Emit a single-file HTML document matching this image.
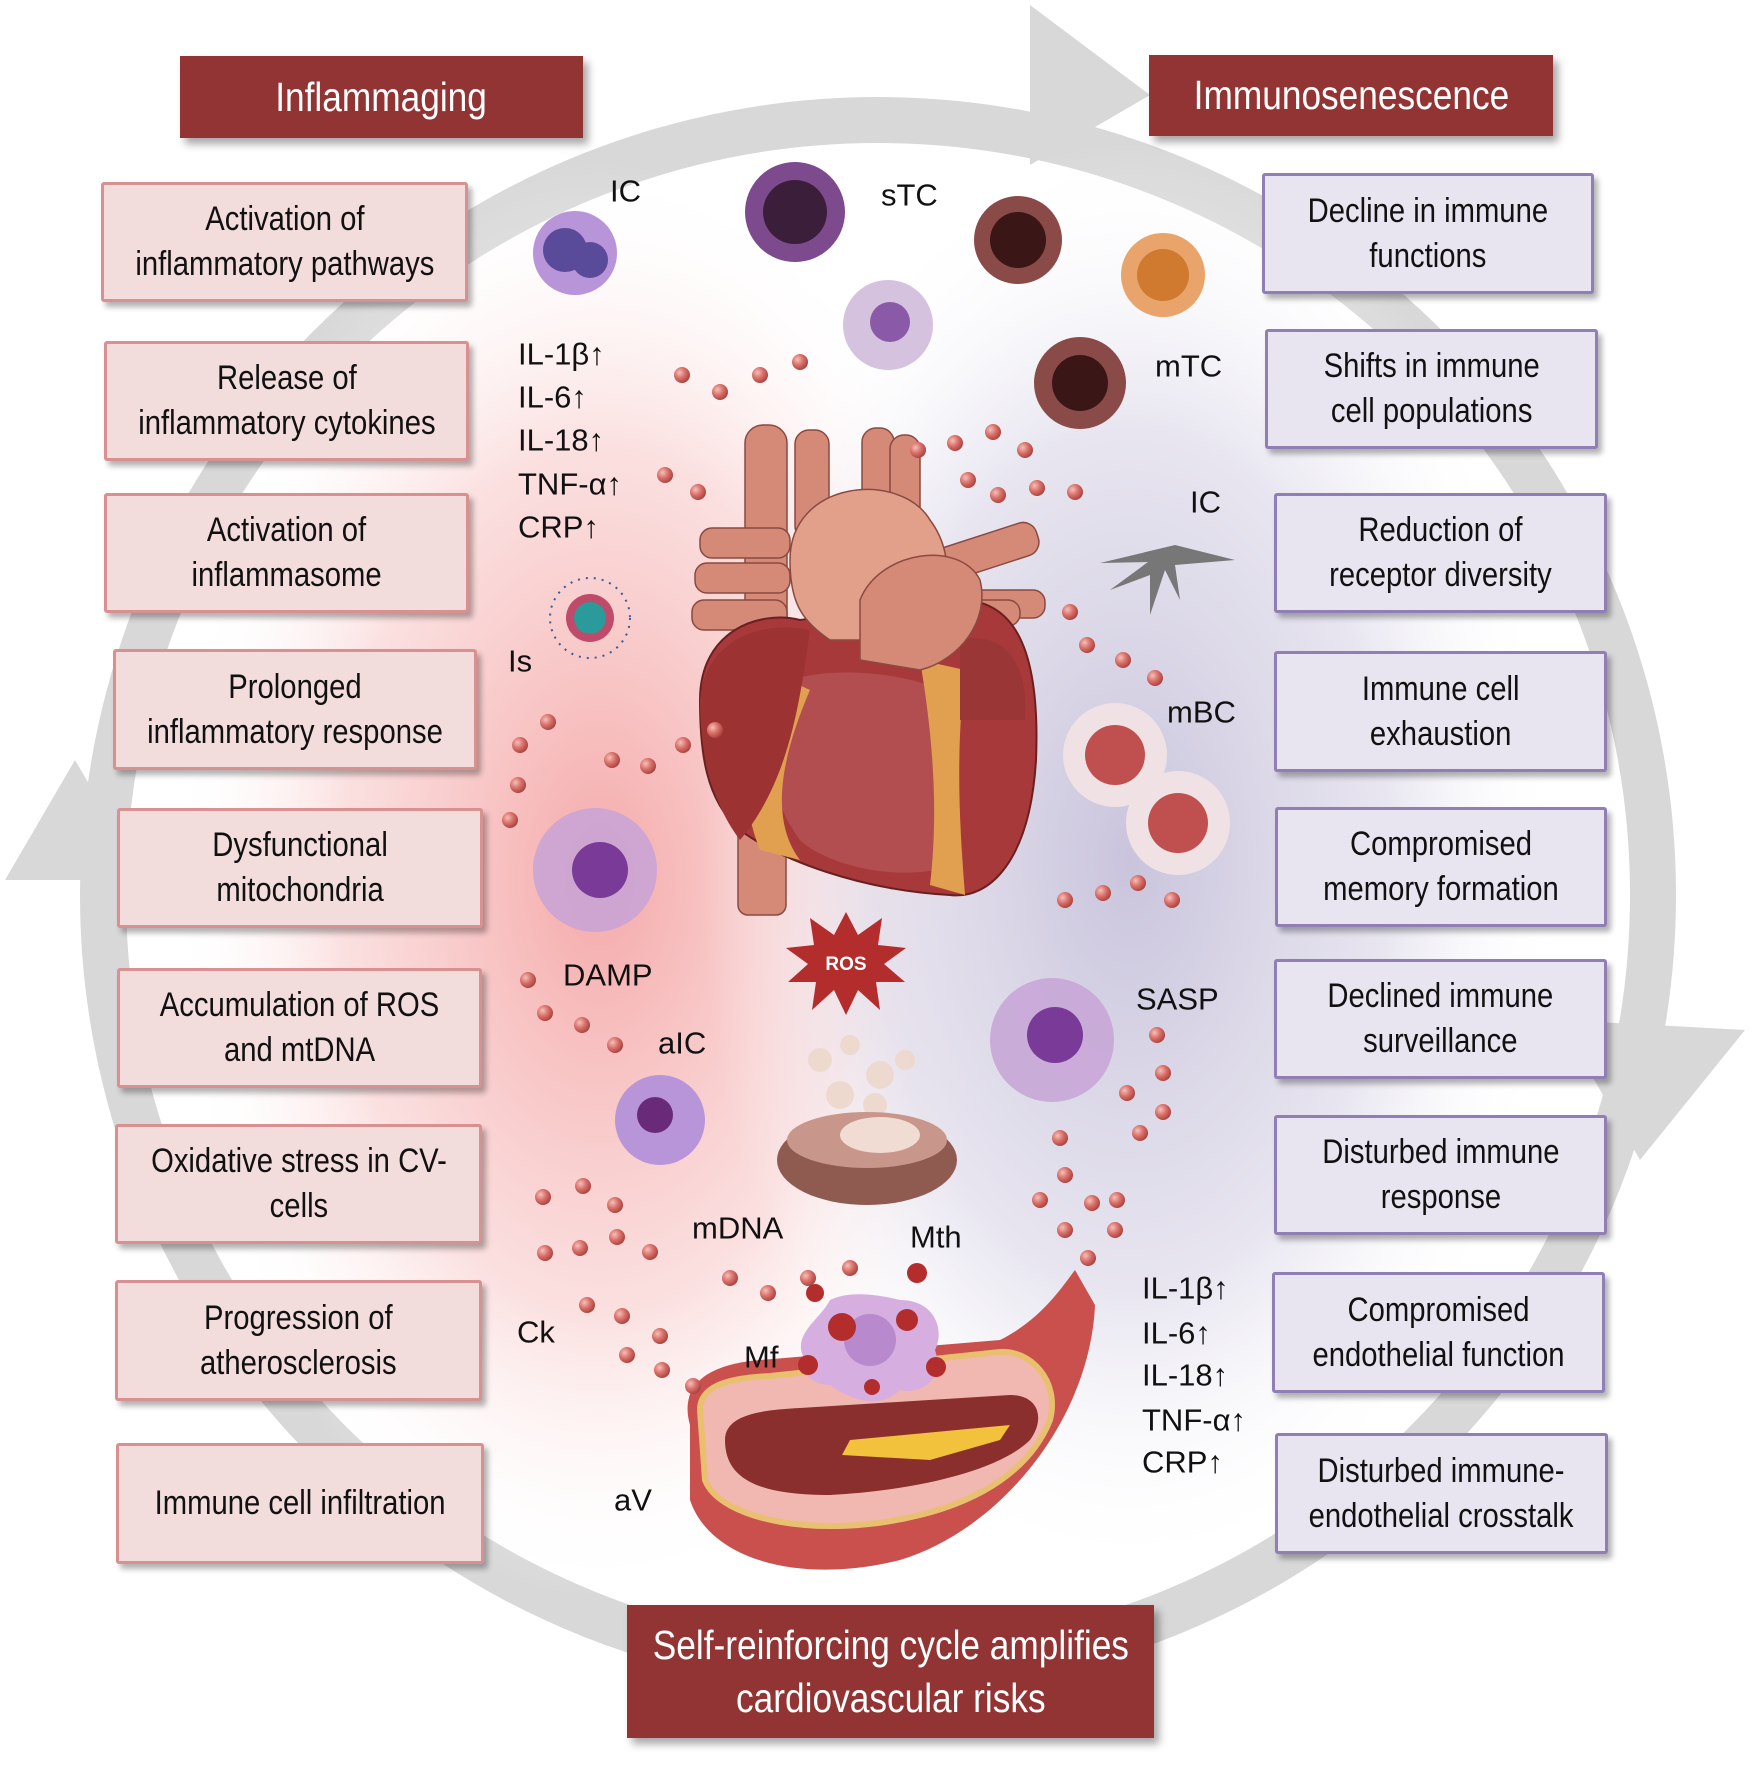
<!DOCTYPE html>
<html><head><meta charset="utf-8"><style>
html,body{margin:0;padding:0;background:#fff}
#c{position:relative;width:1755px;height:1767px;overflow:hidden;font-family:"Liberation Sans Narrow","Liberation Sans",sans-serif}
.b{position:absolute;display:flex;align-items:center;justify-content:center;text-align:center;font-size:34px;line-height:45px;color:#111;box-sizing:border-box;border-radius:3px}
.b span{display:inline-block;transform:scaleX(.86);white-space:nowrap}
.l{background:#f2dcdc;border:3px solid #d99090;box-shadow:4px 5px 6px rgba(0,0,0,.3)}
.r{background:#e8e5f0;border:3px solid #8f7fb5;box-shadow:4px 5px 6px rgba(0,0,0,.3)}
.h{background:#933434;color:#fff;font-size:41px;line-height:53px;box-shadow:5px 6px 8px rgba(0,0,0,.35);border-radius:0}
svg{position:absolute;left:0;top:0}
</style></head><body><div id="c">
<svg width="1755" height="1767" viewBox="0 0 1755 1767">
<defs>
<radialGradient id="pk" cx="0.5" cy="0.5" r="0.5"><stop offset="0" stop-color="#f5a9a9"/><stop offset="0.6" stop-color="#fad8d8" stop-opacity="0.8"/><stop offset="1" stop-color="#fff" stop-opacity="0"/></radialGradient>
<radialGradient id="lv" cx="0.5" cy="0.5" r="0.5"><stop offset="0" stop-color="#c9c4dc"/><stop offset="0.6" stop-color="#e2dfec" stop-opacity="0.8"/><stop offset="1" stop-color="#fff" stop-opacity="0"/></radialGradient>
<radialGradient id="dot" cx="0.35" cy="0.35" r="0.7"><stop offset="0" stop-color="#f6c0b8"/><stop offset="0.5" stop-color="#d9706a"/><stop offset="1" stop-color="#a8403c"/></radialGradient>
</defs>
<circle cx="878" cy="895" r="775" fill="none" stroke="#d8d8d8" stroke-width="46"/>
<polygon points="1030,5 1150,95 1030,165" fill="#d8d8d8"/>
<polygon points="5,880 75,760 145,880" fill="#d8d8d8"/>
<polygon points="1560,1020 1745,1030 1640,1160" fill="#d8d8d8"/>
<ellipse cx="600" cy="880" rx="430" ry="720" fill="url(#pk)"/>
<ellipse cx="1130" cy="860" rx="430" ry="720" fill="url(#lv)"/>
<g fill="#d58a78" stroke="#8a4a40" stroke-width="1.5">
<rect x="745" y="425" width="42" height="260" rx="18"/>
<rect x="795" y="430" width="34" height="110" rx="14"/>
<rect x="862" y="428" width="32" height="120" rx="14"/>
<rect x="890" y="435" width="30" height="110" rx="14"/>
<rect x="700" y="528" width="90" height="30" rx="12"/>
<rect x="695" y="563" width="95" height="30" rx="12"/>
<rect x="692" y="600" width="95" height="30" rx="12"/>
<rect x="955" y="590" width="90" height="28" rx="12"/>
<rect x="940" y="600" width="80" height="26" rx="12"/>
<rect x="930" y="535" width="110" height="34" rx="14" transform="rotate(-18 985 552)"/>
<rect x="738" y="820" width="48" height="95" rx="10"/>
</g>
<path d="M700,700 C700,630 760,610 800,620 L960,600 C1020,600 1040,660 1036,760 C1030,860 990,900 950,895 C860,890 780,860 740,830 C705,800 700,750 700,700Z" fill="#a8393a" stroke="#6a2020" stroke-width="2"/>
<path d="M760,700 C790,660 900,670 940,690 C960,760 950,830 935,870 C880,880 820,860 800,840 C770,800 760,740 760,700Z" fill="#b24e50"/>
<path d="M745,660 L810,690 C780,760 770,820 800,860 L760,850 C740,800 738,730 745,660Z" fill="#e0a050"/>
<path d="M920,660 L965,670 C955,760 960,830 965,895 L930,885 C940,800 930,720 920,660Z" fill="#e0a050"/>
<path d="M700,700 C705,640 760,620 810,630 C800,700 790,780 740,840 C710,800 700,750 700,700Z" fill="#9c3232"/>
<path d="M960,640 C1000,630 1030,660 1025,720 L960,720 Z" fill="#9a3636"/>
<path d="M790,560 C790,480 900,470 930,520 C960,560 950,620 900,640 L830,640 C800,620 790,600 790,560Z" fill="#e2a08a" stroke="#8a4a40" stroke-width="1.5"/>
<path d="M860,600 C880,550 960,540 980,580 C990,620 960,660 920,670 L860,660Z" fill="#d58a78" stroke="#8a4a40" stroke-width="1.5"/>
<polygon points="846,912 858,935 882,918 878,945 906,948 884,964 905,982 876,982 880,1010 858,990 846,1015 834,990 812,1010 816,982 788,982 808,964 786,948 814,945 810,918 834,935" fill="#b32d2d"/>
<text x="846" y="970" font-family="Liberation Sans" font-weight="bold" font-size="19" fill="#fff" text-anchor="middle">ROS</text>
<g fill="#eed8cc" opacity="0.9"><circle cx="820" cy="1060" r="12"/><circle cx="850" cy="1045" r="10"/><circle cx="880" cy="1075" r="14"/><circle cx="905" cy="1060" r="10"/><circle cx="840" cy="1095" r="14"/><circle cx="875" cy="1105" r="12"/></g>
<ellipse cx="867" cy="1160" rx="90" ry="45" fill="#8f5a50"/>
<ellipse cx="867" cy="1140" rx="80" ry="28" fill="#c8968a"/>
<ellipse cx="880" cy="1135" rx="40" ry="18" fill="#f0dcd2"/>
<path d="M690,1425 C680,1390 700,1365 760,1360 L1000,1340 C1040,1320 1060,1290 1075,1270 L1095,1305 C1090,1420 1000,1530 900,1560 C800,1585 710,1560 690,1500Z" fill="#c9504d"/>
<path d="M700,1410 C700,1385 730,1378 770,1376 L1000,1352 C1030,1350 1060,1380 1050,1420 C1030,1470 980,1500 920,1515 C820,1540 720,1520 705,1480Z" fill="#f0b8b0" stroke="#e8c070" stroke-width="6"/>
<path d="M725,1440 C725,1415 760,1410 800,1408 L1010,1395 C1040,1395 1045,1420 1030,1440 C1000,1470 920,1490 830,1495 C760,1495 725,1480 725,1440Z" fill="#8a2e2e"/>
<path d="M842,1455 L930,1460 L1000,1440 L1010,1425 L850,1440Z" fill="#f2c23c"/>
<path d="M805,1360 C790,1335 820,1320 830,1300 C850,1290 880,1295 900,1300 C935,1300 945,1330 935,1350 C945,1380 920,1395 900,1390 C880,1410 850,1400 830,1385 C815,1385 800,1375 805,1360Z" fill="#d6aee0"/>
<circle cx="870" cy="1340" r="26" fill="#b889cc"/>
<g fill="#b32d2d"><circle cx="842" cy="1327" r="14"/><circle cx="907" cy="1320" r="11"/><circle cx="815" cy="1293" r="9"/><circle cx="917" cy="1273" r="10"/><circle cx="808" cy="1365" r="10"/><circle cx="936" cy="1367" r="10"/><circle cx="872" cy="1387" r="8"/></g>
<g>
<circle cx="575" cy="253" r="42" fill="#b895d8"/><circle cx="565" cy="250" r="22" fill="#5a4a9a"/><circle cx="590" cy="260" r="18" fill="#5a4a9a"/>
<circle cx="590" cy="618" r="40" fill="none" stroke="#3a5a9a" stroke-width="2" stroke-dasharray="2 6"/><circle cx="590" cy="618" r="24" fill="#c04a6a"/><circle cx="590" cy="618" r="16" fill="#2a9a9a"/>
<circle cx="795" cy="212" r="50" fill="#7e4a8e"/><circle cx="795" cy="212" r="32" fill="#3a1e3a"/>
<circle cx="888" cy="325" r="45" fill="#c9b3d6" opacity="0.8"/><circle cx="890" cy="322" r="20" fill="#8a5aa8"/>
<circle cx="1018" cy="240" r="44" fill="#8a4a48"/><circle cx="1018" cy="240" r="28" fill="#3a1616"/>
<circle cx="1163" cy="275" r="42" fill="#e8a46a"/><circle cx="1163" cy="275" r="26" fill="#d07a30"/>
<circle cx="1080" cy="383" r="46" fill="#8a4a48"/><circle cx="1080" cy="383" r="28" fill="#3a1616"/>
<path d="M1100,563 L1175,545 L1235,560 L1175,565 L1180,600 L1165,570 L1150,615 L1150,575 L1110,590 L1148,562Z" fill="#777"/>
<circle cx="1115" cy="755" r="52" fill="#f0e2e4"/><circle cx="1115" cy="755" r="30" fill="#c05050"/>
<circle cx="1178" cy="823" r="52" fill="#f0e2e4"/><circle cx="1178" cy="823" r="30" fill="#c05050"/>
<circle cx="595" cy="870" r="62" fill="#c7a3d6" opacity="0.85"/><circle cx="600" cy="870" r="28" fill="#7a3a98"/>
<circle cx="1052" cy="1040" r="62" fill="#c7a3d6" opacity="0.85"/><circle cx="1055" cy="1035" r="28" fill="#7a3a98"/>
<circle cx="660" cy="1120" r="45" fill="#b895d8"/><circle cx="655" cy="1115" r="18" fill="#6a2a7a"/>
</g>
<g fill="url(#dot)">
<circle cx="682" cy="375" r="8"/><circle cx="720" cy="392" r="8"/><circle cx="760" cy="375" r="8"/><circle cx="800" cy="362" r="8"/>
<circle cx="665" cy="475" r="8"/><circle cx="698" cy="492" r="8"/>
<circle cx="918" cy="450" r="8"/><circle cx="955" cy="443" r="8"/><circle cx="993" cy="432" r="8"/><circle cx="1025" cy="450" r="8"/>
<circle cx="968" cy="480" r="8"/><circle cx="998" cy="495" r="8"/><circle cx="1037" cy="488" r="8"/><circle cx="1075" cy="492" r="8"/>
<circle cx="1070" cy="612" r="8"/><circle cx="1087" cy="645" r="8"/><circle cx="1123" cy="660" r="8"/><circle cx="1155" cy="678" r="8"/>
<circle cx="548" cy="722" r="8"/><circle cx="520" cy="745" r="8"/><circle cx="518" cy="785" r="8"/><circle cx="510" cy="820" r="8"/><circle cx="612" cy="760" r="8"/><circle cx="648" cy="766" r="8"/><circle cx="683" cy="745" r="8"/><circle cx="715" cy="730" r="8"/>
<circle cx="1065" cy="900" r="8"/><circle cx="1103" cy="893" r="8"/><circle cx="1138" cy="883" r="8"/><circle cx="1172" cy="900" r="8"/>
<circle cx="528" cy="980" r="8"/><circle cx="545" cy="1013" r="8"/><circle cx="582" cy="1025" r="8"/><circle cx="615" cy="1045" r="8"/>
<circle cx="1157" cy="1035" r="8"/><circle cx="1163" cy="1073" r="8"/><circle cx="1127" cy="1093" r="8"/><circle cx="1163" cy="1112" r="8"/><circle cx="1140" cy="1133" r="8"/><circle cx="1060" cy="1138" r="8"/><circle cx="1065" cy="1175" r="8"/><circle cx="1092" cy="1203" r="8"/><circle cx="1117" cy="1200" r="8"/><circle cx="1040" cy="1200" r="8"/><circle cx="1065" cy="1230" r="8"/><circle cx="1115" cy="1230" r="8"/><circle cx="1088" cy="1258" r="8"/>
<circle cx="543" cy="1197" r="8"/><circle cx="583" cy="1186" r="8"/><circle cx="615" cy="1205" r="8"/><circle cx="545" cy="1253" r="8"/><circle cx="580" cy="1248" r="8"/><circle cx="617" cy="1237" r="8"/><circle cx="650" cy="1252" r="8"/>
<circle cx="730" cy="1278" r="8"/><circle cx="768" cy="1293" r="8"/><circle cx="808" cy="1278" r="8"/><circle cx="850" cy="1268" r="8"/>
<circle cx="587" cy="1305" r="8"/><circle cx="622" cy="1316" r="8"/><circle cx="660" cy="1336" r="8"/><circle cx="627" cy="1355" r="8"/><circle cx="662" cy="1370" r="8"/><circle cx="693" cy="1386" r="8"/>
</g>
<g font-family="Liberation Sans Narrow, Liberation Sans, sans-serif" font-size="31" fill="#111" dominant-baseline="central">
<text x="610" y="191">IC</text>
<text x="881" y="195">sTC</text>
<text x="1155" y="366">mTC</text>
<text x="1190" y="502">IC</text>
<text x="1167" y="712">mBC</text>
<text x="1136" y="999">SASP</text>
<text x="563" y="975">DAMP</text>
<text x="658" y="1043">aIC</text>
<text x="692" y="1228">mDNA</text>
<text x="910" y="1237">Mth</text>
<text x="517" y="1332">Ck</text>
<text x="744" y="1357">Mf</text>
<text x="614" y="1500">aV</text>
<text x="508" y="661">Is</text>
<text x="518" y="354">IL-1β↑</text><text x="518" y="397">IL-6↑</text><text x="518" y="440">IL-18↑</text><text x="518" y="484">TNF-α↑</text><text x="518" y="527">CRP↑</text>
<text x="1142" y="1288">IL-1β↑</text><text x="1142" y="1333">IL-6↑</text><text x="1142" y="1375">IL-18↑</text><text x="1142" y="1420">TNF-α↑</text><text x="1142" y="1462">CRP↑</text>
</g>
</svg>
<div class="b h" style="left:180px;top:56px;width:403px;height:82px"><span>Inflammaging</span></div>
<div class="b h" style="left:1149px;top:55px;width:404px;height:81px"><span>Immunosenescence</span></div>
<div class="b h" style="left:627px;top:1605px;width:527px;height:133px"><span>Self-reinforcing cycle amplifies<br>cardiovascular risks</span></div>
<div class="b l" style="left:101px;top:182px;width:367px;height:120px"><span>Activation of<br>inflammatory pathways</span></div>
<div class="b l" style="left:104px;top:341px;width:365px;height:120px"><span>Release of<br>inflammatory cytokines</span></div>
<div class="b l" style="left:104px;top:493px;width:365px;height:120px"><span>Activation of<br>inflammasome</span></div>
<div class="b l" style="left:113px;top:649px;width:364px;height:121px"><span>Prolonged<br>inflammatory response</span></div>
<div class="b l" style="left:117px;top:808px;width:366px;height:120px"><span>Dysfunctional<br>mitochondria</span></div>
<div class="b l" style="left:117px;top:968px;width:365px;height:120px"><span>Accumulation of ROS<br>and mtDNA</span></div>
<div class="b l" style="left:115px;top:1124px;width:367px;height:120px"><span>Oxidative stress in CV-<br>cells</span></div>
<div class="b l" style="left:115px;top:1280px;width:367px;height:121px"><span>Progression of<br>atherosclerosis</span></div>
<div class="b l" style="left:116px;top:1443px;width:368px;height:121px"><span>Immune cell infiltration</span></div>
<div class="b r" style="left:1262px;top:173px;width:332px;height:121px"><span>Decline in immune<br>functions</span></div>
<div class="b r" style="left:1265px;top:329px;width:333px;height:120px"><span>Shifts in immune<br>cell populations</span></div>
<div class="b r" style="left:1274px;top:493px;width:333px;height:120px"><span>Reduction of<br>receptor diversity</span></div>
<div class="b r" style="left:1274px;top:651px;width:333px;height:121px"><span>Immune cell<br>exhaustion</span></div>
<div class="b r" style="left:1275px;top:807px;width:332px;height:120px"><span>Compromised<br>memory formation</span></div>
<div class="b r" style="left:1274px;top:959px;width:333px;height:120px"><span>Declined immune<br>surveillance</span></div>
<div class="b r" style="left:1274px;top:1115px;width:333px;height:120px"><span>Disturbed immune<br>response</span></div>
<div class="b r" style="left:1272px;top:1272px;width:333px;height:121px"><span>Compromised<br>endothelial function</span></div>
<div class="b r" style="left:1275px;top:1433px;width:333px;height:121px"><span>Disturbed immune-<br>endothelial crosstalk</span></div>
</div></body></html>
